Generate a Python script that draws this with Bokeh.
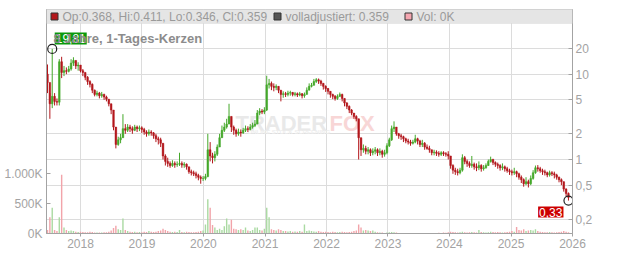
import numpy as np
import pandas as pd
from bokeh.plotting import figure
from bokeh.models import (Range1d, LinearAxis, LinearScale, FixedTicker, Label,
                          BoxAnnotation, ColumnDataSource)
from bokeh.core.properties import value
from bokeh.embed import file_html
from bokeh.resources import INLINE

# ---------------- data (2-week candles) ----------------
start_date = "2017-06-19"
period = "14D"
first_open = 10.0
close = [8.0, 4.5, 5.5, 4.8, 4.7, 14.0, 10.5, 11.0, 10.8, 11.5,
         13.5, 14.5, 12.5, 12.8, 11.0, 10.5, 9.2, 8.2, 7.6, 6.5,
         5.8, 6.0, 5.6, 5.8, 5.4, 5.1, 4.5, 3.8, 2.4, 1.5,
         1.7, 1.8, 2.3, 2.2, 2.4, 2.3, 2.2, 2.4, 2.3, 2.35,
         2.25, 2.1, 2.0, 2.1, 2.05, 1.9, 1.75, 1.7, 1.55, 1.1,
         0.95, 0.9, 0.85, 0.9, 0.87, 0.88, 0.9, 0.86, 0.88, 0.82,
         0.72, 0.7, 0.68, 0.65, 0.62, 0.6, 0.6, 0.63, 1.3, 1.1,
         1.05, 1.15, 1.4, 1.8, 2.2, 2.4, 2.6, 3.2, 2.4, 2.2,
         2.0, 2.1, 2.05, 2.2, 2.3, 2.25, 2.4, 2.5, 2.6, 3.5,
         3.7, 3.6, 3.8, 7.5, 7.8, 7.2, 7.0, 7.2, 6.5, 5.8,
         5.9, 5.8, 6.0, 6.1, 5.8, 5.9, 5.7, 5.9, 5.6, 5.8,
         6.5, 7.2, 7.4, 8.2, 8.6, 8.3, 7.8, 7.2, 6.8, 6.3,
         5.8, 5.5, 5.2, 5.5, 5.8, 5.2, 4.6, 4.2, 3.8, 3.5,
         3.2, 3.0, 1.8, 1.3, 1.35, 1.25, 1.3, 1.2, 1.25, 1.3,
         1.2, 1.25, 1.15, 1.2, 1.45, 1.7, 2.3, 2.4, 2.0, 1.9,
         1.85, 1.75, 1.65, 1.6, 1.55, 1.6, 1.75, 1.65, 1.5, 1.55,
         1.4, 1.35, 1.3, 1.2, 1.22, 1.18, 1.15, 1.2, 1.17, 1.15,
         1.1, 0.85, 0.75, 0.72, 0.7, 0.75, 1.05, 0.95, 0.9, 0.85,
         0.88, 0.82, 0.8, 0.85, 0.78, 0.8, 0.85, 0.95, 1.0, 0.92,
         0.88, 0.85, 0.8, 0.82, 0.78, 0.74, 0.72, 0.7, 0.72, 0.68,
         0.62, 0.58, 0.52, 0.55, 0.52, 0.6, 0.7, 0.8, 0.78, 0.74,
         0.72, 0.7, 0.66, 0.7, 0.68, 0.66, 0.62, 0.58, 0.55, 0.45,
         0.4, 0.359]
high = [13.0, 6.0, 19.81, 6.0, 5.2, 15.0, 16.0, 12.5, 12.0, 12.5,
        15.0, 15.8, 14.5, 13.8, 12.8, 11.5, 10.5, 9.5, 8.5, 7.8,
        6.6, 6.4, 6.2, 6.2, 5.9, 5.6, 5.1, 4.5, 3.8, 2.4,
        1.85, 2.0, 3.4, 2.6, 2.6, 2.55, 2.45, 2.55, 2.5, 2.5,
        2.45, 2.35, 2.2, 2.25, 2.2, 2.1, 2.0, 1.85, 1.8, 1.55,
        1.15, 1.05, 0.95, 0.98, 0.95, 0.95, 1.2, 0.95, 0.93, 0.9,
        0.82, 0.76, 0.74, 0.72, 0.68, 0.65, 0.64, 0.68, 2.0, 1.6,
        1.2, 1.25, 1.5, 2.0, 2.5, 2.7, 3.0, 4.5, 3.2, 2.5,
        2.3, 2.3, 2.25, 2.35, 2.5, 2.45, 2.6, 2.7, 2.9, 3.8,
        4.0, 3.9, 4.1, 9.6, 8.8, 8.2, 7.8, 7.6, 7.2, 6.5,
        6.3, 6.2, 6.4, 6.4, 6.2, 6.2, 6.1, 6.2, 6.0, 6.1,
        7.0, 7.8, 7.9, 8.8, 9.0, 8.9, 8.6, 7.9, 7.4, 6.9,
        6.3, 5.9, 5.7, 5.8, 6.1, 5.9, 5.2, 4.7, 4.3, 3.9,
        3.5, 3.3, 3.0, 1.8, 1.5, 1.45, 1.4, 1.35, 1.35, 1.4,
        1.35, 1.35, 1.3, 1.3, 1.55, 1.8, 2.5, 2.8, 2.4, 2.05,
        2.0, 1.9, 1.8, 1.75, 1.7, 1.7, 1.95, 1.8, 1.7, 1.7,
        1.6, 1.5, 1.45, 1.3, 1.3, 1.28, 1.25, 1.25, 1.25, 1.22,
        1.25, 1.1, 0.88, 0.8, 0.78, 0.8, 1.15, 1.1, 1.0, 0.95,
        1.1, 0.92, 0.9, 0.95, 0.88, 0.86, 0.9, 1.0, 1.08, 1.02,
        0.95, 0.92, 0.88, 0.9, 0.85, 0.82, 0.78, 0.76, 0.8, 0.74,
        0.7, 0.65, 0.6, 0.62, 0.58, 0.65, 0.75, 0.85, 0.86, 0.82,
        0.78, 0.76, 0.72, 0.74, 0.73, 0.72, 0.68, 0.63, 0.6, 0.55,
        0.46, 0.411]
low = [6.0, 3.0, 4.0, 4.3, 4.3, 4.3, 9.0, 9.5, 10.0, 10.5,
       11.0, 12.5, 11.5, 11.0, 10.5, 9.5, 8.5, 7.5, 7.0, 6.0,
       5.5, 5.5, 5.2, 5.3, 5.0, 4.8, 4.2, 3.4, 2.2, 1.35,
       1.45, 1.55, 1.8, 2.0, 2.1, 2.1, 2.0, 2.15, 2.1, 2.15,
       2.05, 1.95, 1.85, 1.9, 1.9, 1.75, 1.6, 1.5, 1.4, 1.0,
       0.85, 0.82, 0.8, 0.82, 0.8, 0.82, 0.84, 0.8, 0.8, 0.76,
       0.68, 0.65, 0.64, 0.6, 0.57, 0.52, 0.56, 0.57, 0.62, 0.95,
       0.9, 0.95, 1.1, 1.4, 1.8, 2.1, 2.3, 2.6, 2.1, 1.95,
       1.85, 1.9, 1.85, 2.0, 2.1, 2.1, 2.2, 2.3, 2.4, 2.6,
       3.3, 3.4, 3.4, 3.7, 6.8, 6.5, 6.3, 6.5, 6.0, 4.8,
       5.3, 5.4, 5.5, 5.6, 5.5, 5.5, 5.4, 5.5, 5.2, 5.3,
       5.8, 6.5, 7.0, 7.4, 7.9, 7.7, 7.3, 6.6, 6.2, 5.8,
       5.3, 5.1, 4.9, 5.0, 5.4, 4.8, 4.2, 3.9, 3.5, 3.3,
       3.0, 2.8, 1.0, 1.1, 1.2, 1.15, 1.15, 1.1, 1.12, 1.15,
       1.1, 1.12, 1.05, 1.08, 1.15, 1.4, 1.65, 2.1, 1.9, 1.75,
       1.7, 1.6, 1.55, 1.5, 1.45, 1.5, 1.55, 1.5, 1.4, 1.4,
       1.3, 1.3, 1.2, 1.12, 1.12, 1.1, 1.08, 1.1, 1.1, 1.08,
       1.0, 0.78, 0.68, 0.66, 0.65, 0.67, 0.72, 0.88, 0.82, 0.8,
       0.8, 0.76, 0.73, 0.75, 0.72, 0.74, 0.78, 0.84, 0.92, 0.86,
       0.82, 0.78, 0.74, 0.75, 0.72, 0.7, 0.66, 0.65, 0.66, 0.62,
       0.58, 0.53, 0.48, 0.5, 0.47, 0.5, 0.58, 0.68, 0.72, 0.7,
       0.66, 0.65, 0.62, 0.63, 0.64, 0.6, 0.58, 0.54, 0.5, 0.42,
       0.37, 0.33]
volume_k = [60, 270, 430, 60, 40, 270, 980, 100, 60, 40,
            50, 40, 30, 25, 30, 25, 20, 20, 30, 25,
            15, 15, 15, 15, 20, 20, 30, 50, 90, 130,
            70, 60, 250, 60, 40, 30, 25, 30, 20, 25,
            20, 30, 25, 40, 30, 25, 30, 40, 50, 80,
            60, 40, 30, 25, 30, 25, 60, 25, 20, 30,
            25, 20, 20, 25, 30, 40, 50, 150, 570, 430,
            140, 100, 60, 80, 60, 120, 250, 150, 230, 80,
            70, 60, 70, 60, 100, 50, 40, 60, 100, 100,
            60, 50, 80, 430, 270, 70, 60, 50, 70, 60,
            40, 40, 35, 40, 30, 35, 30, 40, 30, 150,
            40, 50, 40, 35, 30, 40, 30, 25, 30, 25,
            20, 30, 25, 20, 25, 30, 25, 20, 25, 30,
            40, 50, 150, 100, 50, 60, 50, 40, 50, 30,
            20, 15, 15, 10, 15, 20, 25, 20, 15, 10,
            8, 6, 5, 5, 6, 5, 8, 5, 5, 6,
            5, 5, 6, 8, 10, 8, 12, 10, 15, 12,
            20, 30, 25, 20, 15, 20, 30, 20, 15, 20,
            25, 20, 15, 60, 25, 20, 15, 20, 30, 25,
            20, 25, 20, 15, 20, 25, 30, 40, 30, 110,
            60, 50, 70, 40, 50, 60, 50, 70, 40, 30,
            25, 20, 20, 25, 20, 15, 20, 25, 30, 40,
            30, 20]

price_ticks = [0.2, 0.5, 1, 2, 5, 10, 20]
price_tick_labels = ["0,2", "0,5", "1", "2", "5", "10", "20"]
vol_ticks = [0, 500, 1000]
vol_tick_labels = ["0K", "500K", "1.000K"]
years = [2018, 2019, 2020, 2021, 2022, 2023, 2024, 2025, 2026]

title_text = "8 Jahre, 1-Tages-Kerzen"
legend_ohlc = "Op:0.368, Hi:0.411, Lo:0.346, Cl:0.359"
legend_adj = "volladjustiert: 0.359"
legend_vol = "Vol: 0K"

# ---------------- styling constants ----------------
FONT = "Liberation Sans"
RED = "#b3171c"
GREEN = "#45a82a"
VRED = "#f2a4aa"
VGREEN = "#aadaa2"
AXC = "#a3a3a3"

dates = pd.date_range(start_date, periods=len(close), freq=period)
open_ = [first_open] + close[:-1]
o = np.array(open_); c = np.array(close)
up = c >= o
colors = np.where(up, GREEN, RED)
vcolors = np.where(up, VGREEN, VRED)

src = ColumnDataSource(dict(x=dates, h=high, l=low, top=np.maximum(o, c),
                            bot=np.minimum(o, c), color=colors,
                            vol=volume_k, vcolor=vcolors))

# frame geometry (pixels) used to place the ranges
X0 = pd.Timestamp("2017-06-13").value / 1e6
X1 = pd.Timestamp("2026-01-01").value / 1e6
FL, FR, FT, FB = 46, 572, 9, 233
PX_DEC = 85.3   # pixels per decade
PY_ONE = 159.0  # pixel row of price 1
MS_PX = (X1 - X0) / (FR - FL)


def sx(px):
    return X0 + MS_PX * (px - FL)


def sy(py):
    return 10 ** ((PY_ONE - py) / PX_DEC)


p = figure(width=632, height=253, x_axis_type="datetime", y_axis_type="log",
           x_range=Range1d(X0, X1), y_range=Range1d(sy(FB), sy(FT)),
           y_axis_location="right", output_backend="svg", toolbar_location=None,
           min_border_left=FL, min_border_right=632 - FR, min_border_top=FT,
           min_border_bottom=253 - FB)
p.background_fill_color = "white"
p.border_fill_color = "white"
p.outline_line_color = "#cccccc"

p.extra_y_ranges = {"vol": Range1d(0, (FB - FT) / 0.06)}
p.extra_y_scales = {"vol": LinearScale()}

# axes
yax = p.yaxis[0]
yax.ticker = FixedTicker(ticks=price_ticks)
yax.major_label_overrides = {t: s for t, s in zip(price_ticks, price_tick_labels)}
yax.minor_tick_line_color = None
yax.major_tick_in = 4
yax.major_tick_out = 0
yax.major_label_standoff = 3
yax.axis_line_color = AXC
yax.major_tick_line_color = AXC
yax.major_label_text_color = AXC
yax.major_label_text_font = FONT
yax.major_label_text_font_size = "12px"

vax = LinearAxis(y_range_name="vol", ticker=FixedTicker(ticks=vol_ticks))
vax.major_label_overrides = {t: s for t, s in zip(vol_ticks, vol_tick_labels)}
vax.minor_tick_line_color = None
vax.major_tick_in = 4
vax.major_tick_out = 0
vax.major_label_standoff = 4
vax.axis_line_color = AXC
vax.major_tick_line_color = AXC
vax.major_label_text_color = AXC
vax.major_label_text_font = FONT
vax.major_label_text_font_size = "12px"
p.add_layout(vax, "left")

year_ms = [pd.Timestamp(f"{y}-01-01").value / 1e6 for y in years]
xax = p.xaxis[0]
xax.ticker = FixedTicker(ticks=year_ms)
xax.major_label_overrides = {t: str(y) for t, y in zip(year_ms, years)}
xax.minor_tick_line_color = None
xax.major_tick_in = 0
xax.major_tick_out = 3
xax.major_label_standoff = 2
xax.axis_line_color = AXC
xax.major_tick_line_color = AXC
xax.major_label_text_color = AXC
xax.major_label_text_font = FONT
xax.major_label_text_font_size = "12px"

p.xgrid.grid_line_color = "#dcdcdc"
p.ygrid.grid_line_color = "#dcdcdc"

# watermark
wm_y = sy(123)
p.add_layout(Label(x=sx(235), y=wm_y, text="TRADER", text_font=FONT, text_font_style="bold",
                   text_font_size="22px", text_color="#e9e9e9", text_baseline="alphabetic",
                   level="underlay"))
p.add_layout(Label(x=sx(329), y=wm_y, text="FOX", text_font=FONT, text_font_style="bold",
                   text_font_size="22px", text_color="#f8d6d6", text_baseline="alphabetic",
                   level="underlay"))
p.add_layout(Label(x=sx(247), y=sy(131), text="ONLINE STOCK SCREENING", text_font=FONT,
                   text_font_style="bold", text_font_size="6px", text_color="#eeeeee",
                   text_baseline="alphabetic", level="underlay"))

# volume
wd = 14 * 86400000
p.vbar(x="x", width=wd * 0.6, top="vol", bottom=0, fill_color="vcolor", line_color=None,
       y_range_name="vol", source=src)
# candles
p.segment(x0="x", y0="h", x1="x", y1="l", line_color="color", line_width=1, source=src)
p.vbar(x="x", width=wd * 0.7, top="top", bottom="bot", fill_color="color",
       line_color="color", line_width=0.5, source=src)

# extreme markers
imax = int(np.argmax(high))
ilast = len(close) - 1
fmt = lambda v: f"{v:.2f}".replace(".", ",")
p.scatter(x=[dates[imax], dates[ilast]], y=[high[imax], low[ilast]], marker="circle",
          size=9, fill_color=None, line_color="#222222", line_width=1.2)
# max tag: box up and right of the max point (glyphs, so the title lies over it)
gx = dates[imax].value / 1e6 + 18.5 * MS_PX
gy = high[imax] * 10 ** (10.5 / PX_DEC)
p.rect(x=[gx], y=[gy], width=32, height=12, width_units="screen", height_units="screen",
       fill_color="#0b990b", line_color=None)
p.text(x=[gx], y=[gy], text=[fmt(high[imax])], text_align="center", text_baseline="middle",
       text_color="white", text_font=value(FONT), text_font_size="12px")
p.add_layout(Label(x=dates[ilast].value / 1e6, y=low[ilast], text=fmt(low[ilast]),
                   x_offset=-5, y_offset=-6, text_align="right", text_baseline="top",
                   text_font=FONT, text_font_size="12px", text_color="white",
                   background_fill_color="#cc0000", padding=1))

# header band + legend
p.add_layout(BoxAnnotation(left=X0, right=X1, bottom=sy(23), top=sy(FT),
                           fill_color="#e5e5e5", fill_alpha=1.0, line_color="#cccccc",
                           level="annotation"))
p.scatter(x=[sx(54), sx(277), sx(408)], y=[sy(16)] * 3, marker="square", size=7,
          fill_color=[RED, "#555555", "#f4a6b0"], line_color="#333333", line_width=1,
          level="overlay")
for px, txt in [(62, legend_ohlc), (285, legend_adj), (416, legend_vol)]:
    p.add_layout(Label(x=sx(px), y=sy(16), text=txt, text_font=FONT, text_font_size="12px",
                       text_color="#9a9a9a", text_baseline="middle", text_align="left",
                       level="overlay"))

p.add_layout(Label(x=sx(53), y=sy(37.5), text=title_text, text_font=FONT,
                   text_font_style="bold", text_font_size="13px", text_color="#8c8c8c",
                   text_baseline="alphabetic", level="overlay"))

open("out.html", "w").write(file_html(p, INLINE))
